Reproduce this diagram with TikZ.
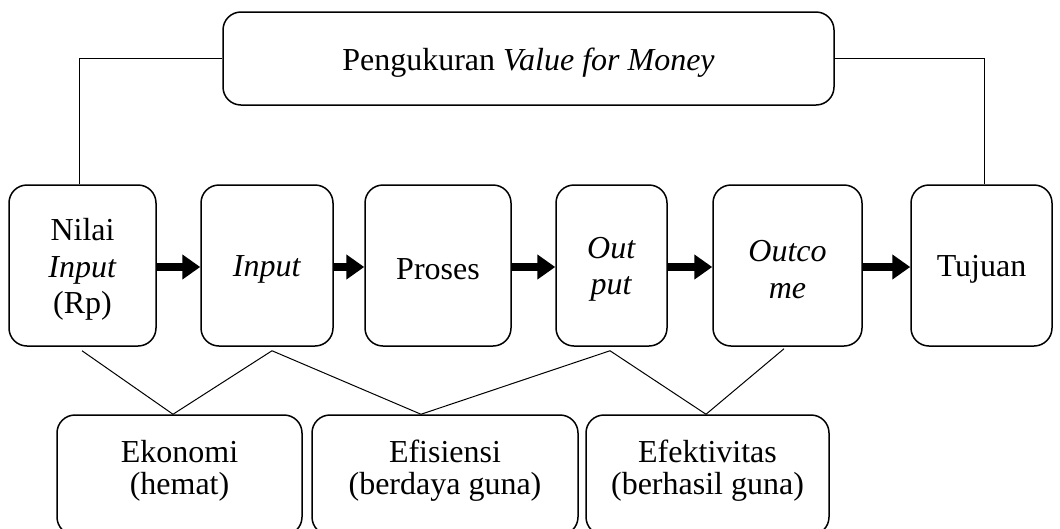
\documentclass[tikz,border=0pt]{standalone}
\usepackage{fontspec}
\setmainfont{Liberation Serif}
\usetikzlibrary{arrows.meta}
\begin{document}
\begin{tikzpicture}[x=1pt,y=-1pt,
  box/.style={draw, line width=1.5pt, rounded corners=18pt, inner sep=0pt},
  rowbox/.style={box, minimum height=161pt},
  lowbox/.style={box, minimum height=120pt},
  txt/.style={inner sep=0pt, align=center, yshift=-4pt, font=\fontsize{32}{36.5}\selectfont},
  lowtxt/.style={inner sep=0pt, align=center, yshift=4pt, font=\fontsize{32}{32}\selectfont},
  flow/.style={line width=8.5pt, -{Triangle[length=18pt,width=24pt]}},
  link/.style={line width=1pt}]
\useasboundingbox (0,0) rectangle (1060,528);
\fill[white] (0,0) rectangle (1060,528);
\node[box, minimum width=611pt, minimum height=93pt, label={[txt]center:{Pengukuran \textit{Value for Money}}}] (top) at (528.5,58.5) {};
\node[rowbox, minimum width=147pt, label={[txt]center:{Nilai\\\textit{Input}\\(Rp)}}] (nilai) at (82.5,265.5) {};
\node[rowbox, minimum width=132pt, label={[txt]center:{\textit{Input}}}] (input) at (267,265.5) {};
\node[rowbox, minimum width=146pt, label={[txt]center:{Proses}}] (proses) at (438,265.5) {};
\node[rowbox, minimum width=111pt, label={[txt]center:{\textit{Out}\\\textit{put}}}] (output) at (611.5,265.5) {};
\node[rowbox, minimum width=149pt, label={[txt]center:{\textit{Outco}\\\textit{me}}}] (outcome) at (787.5,265.5) {};
\node[rowbox, minimum width=141pt, label={[txt]center:{Tujuan}}] (tujuan) at (981.5,265.5) {};
\node[lowbox, minimum width=245pt, label={[lowtxt]center:{Ekonomi\\(hemat)}}] (eko) at (179.5,475) {};
\node[lowbox, minimum width=266pt, label={[lowtxt]center:{Efisiensi\\(berdaya guna)}}] (efi) at (445,475) {};
\node[lowbox, minimum width=243pt, label={[lowtxt]center:{Efektivitas\\(berhasil guna)}}] (efe) at (707.5,475) {};
\draw[flow] ([yshift=-1.5pt]nilai.east) -- ([yshift=-1.5pt]input.west);
\draw[flow] ([yshift=-1.5pt]input.east) -- ([yshift=-1.5pt]proses.west);
\draw[flow] ([yshift=-1.5pt]proses.east) -- ([yshift=-1.5pt]output.west);
\draw[flow] ([yshift=-1.5pt]output.east) -- ([yshift=-1.5pt]outcome.west);
\draw[flow] ([yshift=-1.5pt]outcome.east) -- ([yshift=-1.5pt]tujuan.west);
\draw[link] (top.west) -| ([xshift=-3.5pt]nilai.north);
\draw[link] (top.east) -| ([xshift=2.5pt]tujuan.north);
\coordinate (nb) at ([xshift=-0.5pt,yshift=-4pt]nilai.south);
\coordinate (ib) at ([xshift=5pt,yshift=-4pt]input.south);
\coordinate (ob) at ([xshift=-1.5pt,yshift=-4pt]output.south);
\coordinate (cb) at ([xshift=-3.5pt,yshift=-2pt]outcome.south);
\draw[link] (nb) -- ([xshift=-6.5pt]eko.north) -- (ib);
\draw[link] (ib) -- ([xshift=-24pt]efi.north) -- (ob);
\draw[link] (ob) -- ([xshift=-1.5pt]efe.north) -- (cb);
\end{tikzpicture}
\end{document}
